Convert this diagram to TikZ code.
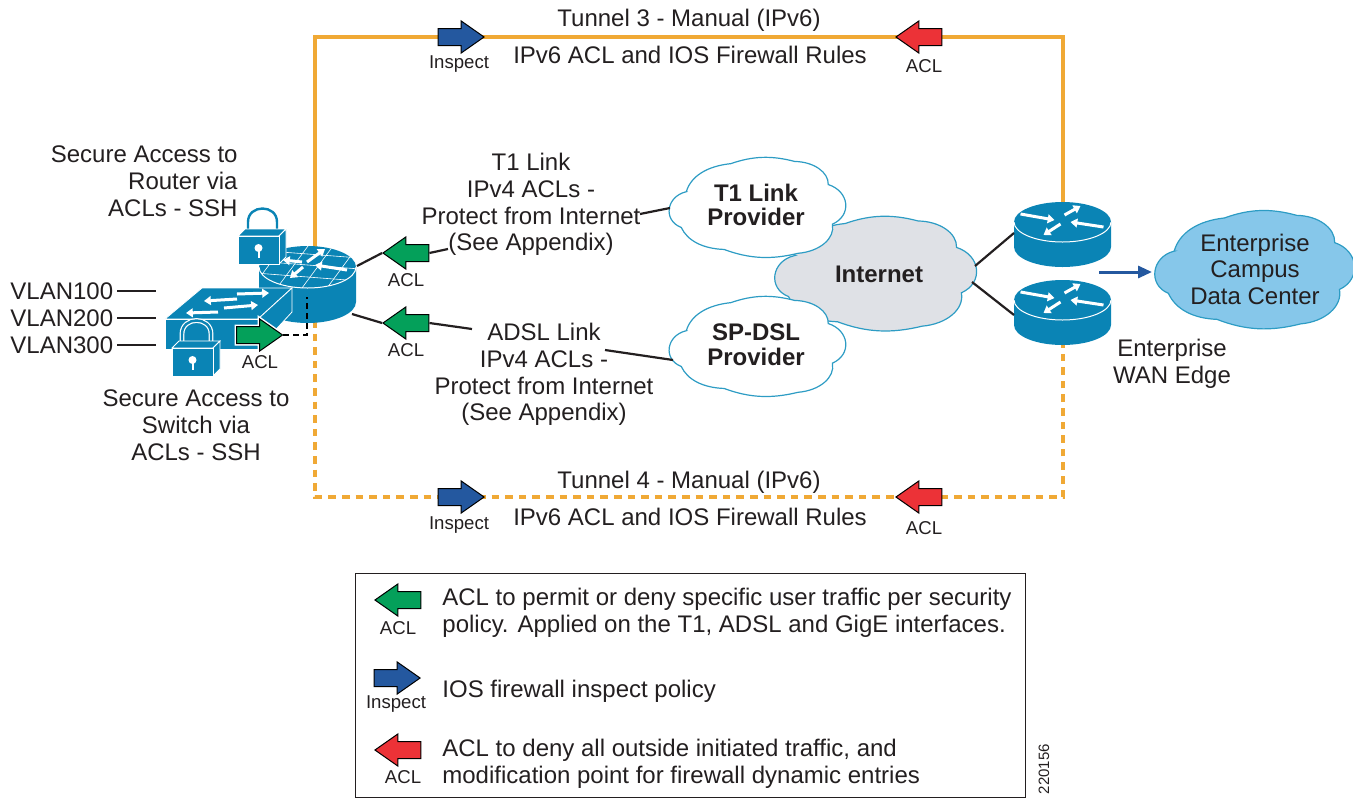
\documentclass[tikz,border=0pt]{standalone}
\usepackage{fontspec}
\setmainfont{Liberation Sans}
\usetikzlibrary{arrows.meta,shapes.arrows}
\definecolor{ciscoblue}{HTML}{0A84B5}
\definecolor{tunnelorange}{HTML}{F0A935}
\definecolor{aclgreen}{HTML}{04A05A}
\definecolor{aclred}{HTML}{EC3237}
\definecolor{inspectblue}{HTML}{24589F}
\definecolor{cloudline}{HTML}{2D9CC4}
\definecolor{cloudgray}{HTML}{DFE1E6}
\definecolor{cloudsky}{HTML}{86C7EA}
\definecolor{inkblack}{HTML}{231F20}
\tikzset{
  lbl/.style={font=\fontsize{12}{13.4}\selectfont,text=inkblack,align=center,inner sep=0pt,yshift=-0.7pt},
  boldlbl/.style={font=\fontsize{12}{12.4}\selectfont\bfseries,text=inkblack,align=center,inner sep=0pt},
  tiny/.style={font=\fontsize{9.3}{10}\selectfont,text=inkblack,inner sep=0pt},
  blockarrow/.style={single arrow,draw=black,line width=0.5pt,minimum height=23pt,
    single arrow head extend=3.8pt,single arrow tip angle=70,inner xsep=0pt,inner ysep=4pt},
  greenleft/.style={blockarrow,fill=aclgreen,shape border rotate=180},
  redleft/.style={blockarrow,fill=aclred,shape border rotate=180},
  blueright/.style={blockarrow,fill=inspectblue},
  tunnel/.style={tunnelorange,line width=2.3pt},
  tunneldash/.style={tunnel,dash pattern=on 3.8pt off 3pt},
  wire/.style={inkblack,line width=1.1pt},
  whitearrow/.style={white,line width=1.5pt,-{Triangle[width=4.4pt,length=3.4pt]}},
  cloudshape/.pic={
    \path[pic actions] (-.83,-.26) to[bend left=35] (-.30,-.77) to[bend left=25] (.46,-.81)
      to[bend left=45] (.86,-.39) to[bend left=60] (.91,.33) to[bend left=45] (.50,.86)
      to[bend left=25] (-.38,.79) to[bend left=35] (-.89,.39) to[bend left=65] cycle;
  },
  wanrouter/.pic={
    \fill[ciscoblue] (-48.5,0) -- (-48.5,25) arc[start angle=180,end angle=360,x radius=24.25pt,y radius=10pt] -- (48.5,0) -- cycle;
    \fill[ciscoblue] (0,0) ellipse[x radius=24.25pt,y radius=10pt];
    \draw[white,line width=0.5pt] (-48.5,0) arc[start angle=180,end angle=360,x radius=24.25pt,y radius=10pt];
    \draw[whitearrow] (-42,-8) -- (-8,-2);
    \draw[whitearrow] (2,-7) -- (18,-16);
    \draw[whitearrow] (41,5) -- (8,0);
    \draw[whitearrow] (-2,2) -- (-19,13);
  },
  lockpad/.pic={
    \draw[white,line width=2.4pt] (10,-6) -- (10,-14) .. controls (10,-32) and (39,-32) .. (39,-14) -- (39,-6);
    \draw[ciscoblue,line width=1.2pt] (10,-6) -- (10,-14) .. controls (10,-32) and (39,-32) .. (39,-14) -- (39,-6);
    \filldraw[ciscoblue,draw=white,line width=0.4pt] (0,0) -- (7,-7) -- (48,-7) -- (41,0) -- cycle;
    \filldraw[ciscoblue,draw=white,line width=0.4pt] (41,0) -- (48,-7) -- (48,21) -- (41,28) -- cycle;
    \filldraw[ciscoblue,draw=white,line width=0.4pt] (0,0) rectangle (41,28);
    \fill[white] (20.5,12) circle (2pt);
    \fill[white] (19.5,12) rectangle (21.5,22);
  }
}
\begin{document}
\begin{tikzpicture}[x=0.5pt,y=-0.5pt]
\useasboundingbox (0,0) rectangle (1353,798);
%TUNNELS
\coordinate (fwtop) at (315,255);
\coordinate (fwbot) at (315,320);
\coordinate (wantop) at (1063,215);
\coordinate (wanbot) at (1063,340);
\coordinate (mid3) at (690,37);
\coordinate (mid4) at (690,497);
\draw[tunnel] (fwtop) |- (mid3) -| (wantop);
\draw[tunneldash] (fwbot) |- (mid4) -| (wanbot);
\node[blueright] (insp3) at (455,37) {};
\node[redleft] (red3) at (925,37) {};
\node[blueright] (insp4) at (455,497) {};
\node[redleft] (red4) at (925,497) {};
\node[tiny] (insp3lbl) at (459,64.5) {Inspect};
\node[tiny] (red3lbl) at (924,66) {ACL};
\node[tiny] (insp4lbl) at (459,525.5) {Inspect};
\node[tiny] (red4lbl) at (924,528) {ACL};
\node[lbl] (t3name) at (689,19) {Tunnel 3 - Manual (IPv6)};
\node[lbl] (t3rules) at (690,54) {IPv6 ACL and IOS Firewall Rules};
\node[lbl] (t4name) at (689,481) {Tunnel 4 - Manual (IPv6)};
\node[lbl] (t4rules) at (690,516) {IPv6 ACL and IOS Firewall Rules};
%CLOUDS
\pic[xscale=96,yscale=63,draw=cloudline,fill=cloudgray,line width=0.6pt] at (874,272) {cloudshape};
\pic[xscale=84,yscale=55,draw=cloudline,fill=white,line width=0.6pt] at (756,206) {cloudshape};
\pic[xscale=84,yscale=55,draw=cloudline,fill=white,line width=0.6pt] at (756,345) {cloudshape};
\pic[xscale=95,yscale=65,draw=cloudline,fill=cloudsky,line width=0.6pt] at (1253,268) {cloudshape};
\node[boldlbl] (inet) at (879,274) {Internet};
\node[boldlbl] (t1cloud) at (756,205) {T1 Link\\Provider};
\node[boldlbl] (dslcloud) at (756,345) {SP-DSL\\Provider};
\node[lbl] (campus) at (1255,268) {Enterprise\\Campus\\Data Center};
%WAN EDGE
\pic (rone) at (1062.5,222) {wanrouter};
\pic (rtwo) at (1062.5,300) {wanrouter};
\coordinate (rone-in) at (1014,233);
\coordinate (rtwo-in) at (1014,315);
\coordinate (inet-a) at (975,266);
\coordinate (inet-b) at (972,282);
\draw[wire] (inet-a) -- (rone-in);
\draw[wire] (inet-b) -- (rtwo-in);
\coordinate (edge-out) at (1099,272);
\coordinate (edge-in) at (1152,272);
\draw[inspectblue,line width=1.5pt,-{Triangle[width=6pt,length=7pt]}] (edge-out) -- (edge-in);
\node[lbl] (edgelbl) at (1172,362) {Enterprise\\WAN Edge};
%FIREWALL ROUTER
\coordinate (fwr) at (307.5,267);
\fill[ciscoblue] (259,267) -- (259,302) arc[start angle=180,end angle=360,x radius=24.25pt,y radius=10.5pt] -- (356,267) -- cycle;
\fill[ciscoblue] (fwr) ellipse[x radius=24.25pt,y radius=10.5pt];
\draw[white,line width=0.5pt] (259,267) arc[start angle=180,end angle=360,x radius=24.25pt,y radius=10.5pt];
\begin{scope}
\clip (fwr) ellipse[x radius=24.25pt,y radius=10.5pt];
\foreach \i in {-60,-35,-10,15,40,65} \draw[white,line width=0.3pt] (307.5+\i+12,244) -- (307.5+\i-22,290);
\foreach \j in {254,265,277} \draw[white,line width=0.3pt] (255,\j-4) -- (360,\j+4);
\end{scope}
\draw[whitearrow] (307,262) -- (325,249);
\draw[whitearrow] (302,262) -- (283,260);
\draw[whitearrow] (347,270) -- (315,265);
\draw[whitearrow] (303,267) -- (290,278);
\pic at (238,236) {lockpad};
%SWITCH
\filldraw[ciscoblue,draw=white,line width=0.4pt] (165,319) -- (202,288) -- (292,288) -- (258,319) -- cycle;
\filldraw[ciscoblue,draw=white,line width=0.4pt] (258,319) -- (292,288) -- (292,312) -- (258,349) -- cycle;
\filldraw[ciscoblue,draw=white,line width=0.4pt] (165,319) rectangle (258,349);
\draw[whitearrow] (237,294) -- (269,293);
\draw[whitearrow] (237,299) -- (204,301);
\draw[whitearrow] (224,308) -- (258,305);
\draw[whitearrow] (218,312) -- (186,313);
\node[blueright,fill=aclgreen,preaction={draw=white,line width=2pt}] (swacl) at (253.5,335) {};
\pic at (172,348) {lockpad};
\coordinate (swdrop) at (307,297);
\draw[black,line width=0.9pt,dash pattern=on 3pt off 2pt] (swacl.east) -| (swdrop);
\node[tiny] (swacllbl) at (260,362) {ACL};
%VLANS
\node[lbl,anchor=west] (v100) at (10,290) {VLAN100};
\node[lbl,anchor=west] (v200) at (10,317) {VLAN200};
\node[lbl,anchor=west] (v300) at (10,344) {VLAN300};
\coordinate (v100end) at (156,291);
\coordinate (v200end) at (156,318);
\coordinate (v300end) at (156,345);
\draw[wire] (117,291) -- (v100end);
\draw[wire] (117,318) -- (v200end);
\draw[wire] (117,345) -- (v300end);
\node[lbl,align=right,anchor=east] (rtrlbl) at (238,180) {Secure Access to\\Router via\\ACLs - SSH};
\node[lbl] (swlbl) at (196,424) {Secure Access to\\Switch via\\ACLs - SSH};
%T1 AND ADSL
\node[greenleft] (acl1) at (412,253) {};
\node[greenleft] (acl2) at (412,323) {};
\node[tiny] (acl1lbl) at (406,280) {ACL};
\node[tiny] (acl2lbl) at (406,350) {ACL};
\node[lbl] (t1lbl) at (531,203) {T1 Link\\IPv4 ACLs -\\Protect from Internet\\(See Appendix)};
\node[lbl] (adsllbl) at (544,373) {ADSL Link\\IPv4 ACLs -\\Protect from Internet\\(See Appendix)};
\coordinate (fwa) at (357,266);
\coordinate (fwb) at (352,314);
\coordinate (t1in) at (448,249);
\coordinate (adslin) at (472,329);
\coordinate (t1out) at (640,214);
\coordinate (adslout) at (605,350);
\coordinate (t1cl) at (670,208);
\coordinate (dslcl) at (673,360);
\draw[wire] (fwa) -- (acl1.west);
\draw[wire] (fwb) -- (acl2.west);
\draw[wire] (acl1.east) -- (t1in);
\draw[wire] (acl2.east) -- (adslin);
\draw[wire] (t1out) -- (t1cl);
\draw[wire] (adslout) -- (dslcl);
%LEGEND
\node[draw=inkblack,line width=0.4pt,minimum width=335pt,minimum height=112pt,inner sep=0pt] (legend) at (690,685) {};
\node[greenleft] (lgreen) at (404,600) {};
\node[blueright] (lblue) at (391,678) {};
\node[redleft] (lred) at (404,750) {};
\node[tiny] (lgreenlbl) at (398,628) {ACL};
\node[tiny] (lbluelbl) at (396,704.5) {Inspect};
\node[tiny] (lredlbl) at (403,777) {ACL};
\node[lbl,align=left,anchor=west] (ltext1) at (442,611) {ACL to permit or deny specific user traffic per security\\policy. Applied on the T1, ADSL and GigE interfaces.};
\node[lbl,align=left,anchor=west] (ltext2) at (442,690) {IOS firewall inspect policy};
\node[lbl,align=left,anchor=west] (ltext3) at (442,762) {ACL to deny all outside initiated traffic, and\\modification point for firewall dynamic entries};
\node[tiny,rotate=90,font=\fontsize{7.5}{9}\selectfont] (fignum) at (1044,769) {220156};
\end{tikzpicture}
\end{document}
